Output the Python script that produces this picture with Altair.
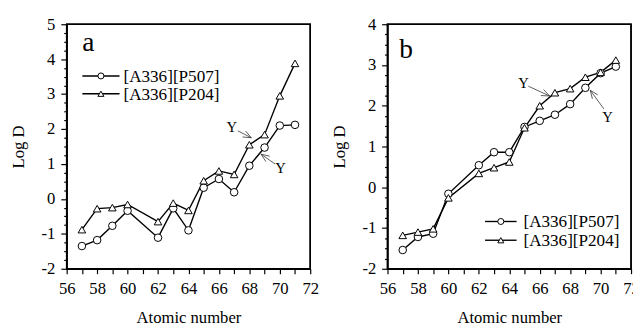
import math
import altair as alt
import pandas as pd

# ---------------- data ----------------
Z = [57, 58, 59, 60, 62, 63, 64, 65, 66, 67, 68, 69, 70, 71]
SERIES = ["[A336][P507]", "[A336][P204]"]

a_p507 = [-1.35, -1.18, -0.77, -0.34, -1.11, -0.27, -0.90, 0.32, 0.57, 0.19, 0.95, 1.47, 2.10, 2.12]
a_p204 = [-0.88, -0.28, -0.25, -0.16, -0.65, -0.12, -0.33, 0.52, 0.80, 0.70, 1.55, 1.84, 2.95, 3.88]
b_p507 = [-1.54, -1.22, -1.14, -0.16, 0.54, 0.86, 0.86, 1.48, 1.63, 1.78, 2.04, 2.44, 2.80, 2.96]
b_p204 = [-1.18, -1.10, -1.02, -0.26, 0.34, 0.48, 0.62, 1.46, 2.00, 2.32, 2.42, 2.70, 2.82, 3.12]

PANEL_LETTERS = ["a", "b"]
X_TITLE = "Atomic number"
Y_TITLE = "Log D"
ANNOT_TEXT = "Y"

FONT = "Liberation Serif"
X_DOMAIN = [56, 72]
PLOT_W, PLOT_H = 249, 250


def build_panel(p507, p204, ydom, legend_x, legend_rows, letter, letter_xy, annots):
    kx = PLOT_W / (X_DOMAIN[1] - X_DOMAIN[0])
    ky = PLOT_H / (ydom[1] - ydom[0])

    df = pd.DataFrame({
        "x": Z * 2,
        "y": p507 + p204,
        "series": [SERIES[0]] * len(Z) + [SERIES[1]] * len(Z),
    })

    y_vals = [ydom[0] + 0.25 * i for i in range(int((ydom[1] - ydom[0]) / 0.25) + 1)]
    xaxis = alt.Axis(
        values=list(range(X_DOMAIN[0], X_DOMAIN[1] + 1)),
        labelExpr="datum.value % 2 === 0 ? datum.label : ''",
        labelOverlap=False, labelFlush=False,
        ticks=True, tickSize=5, labelPadding=7, titlePadding=14, title=X_TITLE,
    )
    yaxis = alt.Axis(
        values=y_vals,
        labelExpr="datum.value % 1 === 0 ? (datum.value < 0 ? '-' + abs(datum.value) : '' + datum.value) : ''",
        labelOverlap=False, labelFlush=False,
        ticks=True,
        tickSize={"condition": {"test": "datum.value % 1 === 0", "value": 6}, "value": 3},
        labelPadding=6, titlePadding=14, title=Y_TITLE,
    )
    xs = alt.Scale(domain=X_DOMAIN, nice=False, zero=False)
    ys = alt.Scale(domain=ydom, nice=False, zero=False)

    def X():
        return alt.X("x:Q", scale=xs, axis=xaxis)

    def Y():
        return alt.Y("y:Q", scale=ys, axis=yaxis)

    shape_scale = alt.Scale(domain=SERIES, range=["circle", "triangle-up"])

    # frame around the plot area, drawn from the axis domains
    frame_df = pd.DataFrame({"x": [X_DOMAIN[0]], "x2": [X_DOMAIN[1]],
                             "y": [ydom[0]], "y2": [ydom[1]]})
    frame = alt.Chart(frame_df).mark_rect(
        fillOpacity=0, stroke="black", strokeWidth=1.5
    ).encode(x=X(), x2="x2:Q", y=Y(), y2="y2:Q")

    lines = alt.Chart(df).mark_line(color="black", strokeWidth=1.4).encode(
        x=X(), y=Y(), detail="series:N")
    points = alt.Chart(df).mark_point(
        filled=True, fill="white", stroke="black", strokeWidth=1, size=60, opacity=1
    ).encode(x=X(), y=Y(), shape=alt.Shape("series:N", scale=shape_scale, legend=None))

    # legend (drawn inside the plot)
    xm = (legend_x[0] + legend_x[1]) / 2
    leg_l = pd.DataFrame({"series": SERIES, "x": [legend_x[0]] * 2,
                          "x2": [legend_x[1]] * 2, "y": legend_rows})
    leg_p = pd.DataFrame({"series": SERIES, "x": [xm] * 2, "y": legend_rows})
    leg_t = pd.DataFrame({"series": SERIES, "x": [legend_x[2]] * 2, "y": legend_rows})
    leg_lines = alt.Chart(leg_l).mark_rule(color="black", strokeWidth=1.4).encode(
        x=X(), x2="x2:Q", y=Y())
    leg_pts = alt.Chart(leg_p).mark_point(
        filled=True, fill="white", stroke="black", strokeWidth=1, size=38, opacity=1
    ).encode(x=X(), y=Y(),
             shape=alt.Shape("series:N", scale=shape_scale, legend=None))
    leg_txt = alt.Chart(leg_t).mark_text(
        align="left", baseline="middle", font=FONT, fontSize=17.5, color="black", dy=1
    ).encode(x=X(), y=Y(), text="series:N")

    let_df = pd.DataFrame({"x": [letter_xy[0]], "y": [letter_xy[1]], "t": [letter]})
    let_txt = alt.Chart(let_df).mark_text(
        align="left", baseline="alphabetic", font=FONT, fontSize=28, color="black"
    ).encode(x=X(), y=Y(), text="t:N")

    # annotations "Y" with arrows
    tx, ty, sx, sy, hx, hy = [], [], [], [], [], []
    bx, by, bx2, by2 = [], [], [], []
    for (t_x, t_y, s_x, s_y, h_x, h_y) in annots:
        tx.append(t_x); ty.append(t_y)
        sx.append(s_x); sy.append(s_y); hx.append(h_x); hy.append(h_y)
        dx = (h_x - s_x) * kx
        dy = -(h_y - s_y) * ky
        L = math.hypot(dx, dy)
        ux, uy = dx / L, dy / L
        for ang in (22, -22):
            a = math.radians(ang)
            rx = ux * math.cos(a) - uy * math.sin(a)
            ry = ux * math.sin(a) + uy * math.cos(a)
            bx.append(h_x - 9 * rx / kx)
            by.append(h_y + 9 * ry / ky)
            bx2.append(h_x)
            by2.append(h_y)
    ann_t = pd.DataFrame({"x": tx, "y": ty, "t": [ANNOT_TEXT] * len(tx)})
    ann_l = pd.DataFrame({"x": sx + bx, "y": sy + by, "x2": hx + bx2, "y2": hy + by2})
    ann_txt = alt.Chart(ann_t).mark_text(
        align="center", baseline="middle", font=FONT, fontSize=15, color="black"
    ).encode(x=X(), y=Y(), text="t:N")
    ann_rules = alt.Chart(ann_l).mark_rule(color="#333333", strokeWidth=0.8).encode(
        x=X(), y=Y(), x2="x2:Q", y2="y2:Q")

    return alt.layer(
        frame, lines, points, leg_lines, leg_pts, leg_txt, let_txt, ann_rules, ann_txt
    ).properties(width=PLOT_W, height=PLOT_H)


panel_a = build_panel(
    a_p507, a_p204, [-2, 5],
    legend_x=[57.03, 59.47, 59.73], legend_rows=[3.52, 3.01],
    letter=PANEL_LETTERS[0], letter_xy=[57.03, 4.22],
    annots=[
        (66.84, 2.06, 67.24, 1.95, 68.13, 1.75),
        (70.05, 0.89, 69.69, 1.00, 68.77, 1.28),
    ],
)
panel_b = build_panel(
    b_p507, b_p204, [-2, 4],
    legend_x=[62.41, 64.48, 64.93], legend_rows=[-0.84, -1.30],
    letter=PANEL_LETTERS[1], letter_xy=[56.77, 3.18],
    annots=[
        (64.93, 2.56, 65.25, 2.48, 66.65, 2.24),
        (70.46, 1.72, 70.22, 1.92, 69.32, 2.38),
    ],
)

chart = alt.hconcat(panel_a, panel_b, spacing=79, bounds="flush").properties(
    background="white",
    padding={"left": 1, "top": 3, "right": -8, "bottom": 0},
).configure_view(
    stroke="black", strokeWidth=1.5,
).configure_axis(
    grid=False,
    domainColor="black", domainWidth=1.5,
    tickColor="black", tickWidth=1.2,
    labelFont=FONT, labelFontSize=17, labelColor="black",
    titleFont=FONT, titleFontSize=17, titleColor="black", titleFontWeight="normal",
)

chart.save("out.html", embed_options={"renderer": "svg", "actions": False})
